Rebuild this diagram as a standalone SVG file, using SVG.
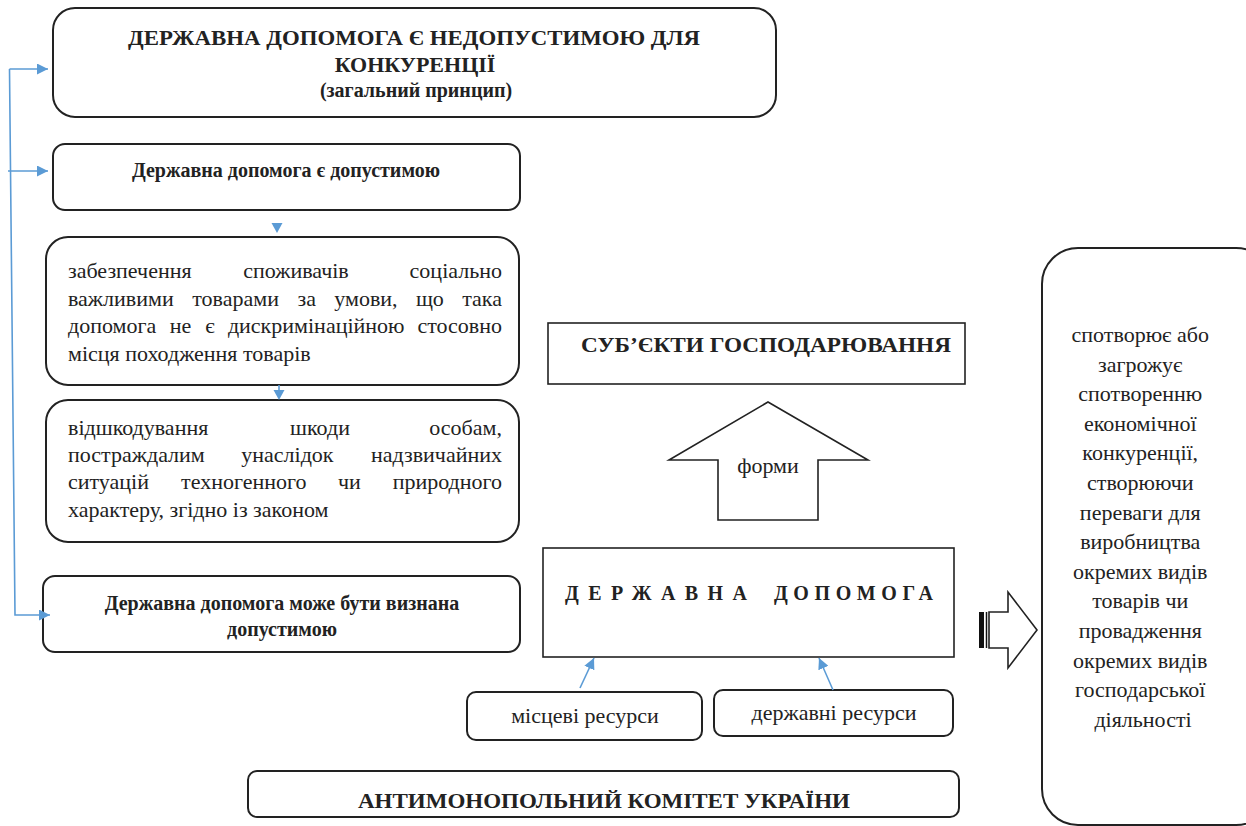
<svg xmlns="http://www.w3.org/2000/svg" width="1246" height="826" viewBox="0 0 1246 826" font-family="Liberation Serif, Times New Roman, serif">
<defs>
<marker id="ah" viewBox="0 0 10 10" refX="10" refY="5" markerWidth="11" markerHeight="11" markerUnits="userSpaceOnUse" orient="auto">
<path d="M0,0 L10,5 L0,10 z" fill="#5b9bd5"/>
</marker>
<style>
.box{fill:#fff;stroke:#222;stroke-width:2}
.sq{fill:#fff;stroke:#222;stroke-width:1.6}
.t{font-size:22px;fill:#222}
.b{font-weight:bold;fill:#222}
.c{text-anchor:middle}
.e{text-anchor:end}
.con{stroke:#5b9bd5;stroke-width:1.6;fill:none}
.tri{fill:#5b9bd5}
</style>
</defs>
<rect width="1246" height="826" fill="#fff"/>

<g id="n1">
<rect class="box" x="53" y="8" width="723" height="109" rx="22"/>
<text class="b c" x="414" y="45" font-size="22" textLength="572" lengthAdjust="spacingAndGlyphs">ДЕРЖАВНА ДОПОМОГА Є НЕДОПУСТИМОЮ ДЛЯ</text>
<text class="b c" x="415" y="72" font-size="22">КОНКУРЕНЦІЇ</text>
<text class="b c" x="416" y="97" font-size="20">(загальний принцип)</text>
</g>

<g id="n2">
<rect class="box" x="53" y="144" width="467" height="66" rx="12"/>
<text class="b c" x="286" y="177" font-size="20">Державна допомога є допустимою</text>
</g>

<g id="n3">
<rect class="box" x="46" y="237" width="473" height="148" rx="22"/>
<text class="t" y="278"><tspan x="68">забезпечення</tspan><tspan x="296" class="c">споживачів</tspan><tspan x="502" class="e">соціально</tspan></text>
<text class="t" y="306"><tspan x="68">важливими</tspan><tspan x="235.6" class="c">товарами</tspan><tspan x="306.7" class="c">за</tspan><tspan x="365.9" class="c">умови,</tspan><tspan x="429.9" class="c">що</tspan><tspan x="502" class="e">така</tspan></text>
<text class="t" y="333"><tspan x="68">допомога</tspan><tspan x="180.6" class="c">не</tspan><tspan x="209.9" class="c">є</tspan><tspan x="316.2" class="c">дискримінаційною</tspan><tspan x="502" class="e">стосовно</tspan></text>
<text class="t" x="68" y="361">місця походження товарів</text>
</g>

<g id="n4">
<rect class="box" x="46" y="400" width="473" height="142" rx="22"/>
<text class="t" y="435"><tspan x="68">відшкодування</tspan><tspan x="320" class="c">шкоди</tspan><tspan x="502" class="e">особам,</tspan></text>
<text class="t" y="462"><tspan x="68">постраждалим</tspan><tspan x="287.4" class="c">унаслідок</tspan><tspan x="502" class="e">надзвичайних</tspan></text>
<text class="t" y="489"><tspan x="68">ситуацій</tspan><tspan x="243.8" class="c">техногенного</tspan><tspan x="349.3" class="c">чи</tspan><tspan x="502" class="e">природного</tspan></text>
<text class="t" x="68" y="517">характеру, згідно із законом</text>
</g>

<g id="n5">
<rect class="box" x="43" y="576" width="477" height="76" rx="12"/>
<text class="b c" x="282" y="610" font-size="20">Державна допомога може бути визнана</text>
<text class="b c" x="282" y="636" font-size="20">допустимою</text>
</g>

<g id="n6">
<rect class="sq" x="548" y="323" width="417" height="61"/>
<text class="b c" x="766" y="352" font-size="22" textLength="370" lengthAdjust="spacingAndGlyphs">СУБ’ЄКТИ ГОСПОДАРЮВАННЯ</text>
</g>

<g id="n7">
<polygon class="sq" points="768,402 868,460 818,460 818,520 718,520 718,460 669,460"/>
<text class="t c" x="768" y="473">форми</text>
</g>

<g id="n8">
<rect class="sq" x="543" y="548" width="411" height="109"/>
<text class="b" y="600" font-size="20"><tspan x="565" textLength="182" lengthAdjust="spacing">ДЕРЖАВНА</tspan><tspan x="774" textLength="159" lengthAdjust="spacing">ДОПОМОГА</tspan></text>
</g>

<g id="n9">
<rect class="box" x="467" y="692" width="235" height="48" rx="9"/>
<text class="t c" x="585" y="723">місцеві ресурси</text>
</g>

<g id="n10">
<rect class="box" x="714" y="690" width="239" height="46" rx="9"/>
<text class="t c" x="834" y="720">державні ресурси</text>
</g>

<g id="n11">
<rect class="box" x="248" y="771" width="711" height="46" rx="9"/>
<text class="b c" x="604" y="808" font-size="22" textLength="492" lengthAdjust="spacingAndGlyphs">АНТИМОНОПОЛЬНИЙ КОМІТЕТ УКРАЇНИ</text>
</g>

<g id="n12">
<rect class="box" x="1042" y="248" width="230" height="577" rx="36"/>
<text class="t c">
<tspan x="1143" y="342">спотворює або</tspan>
<tspan x="1143" y="371.6">загрожує</tspan>
<tspan x="1143" y="401.2">спотворенню</tspan>
<tspan x="1143" y="430.8">економічної</tspan>
<tspan x="1143" y="460.4">конкуренції,</tspan>
<tspan x="1143" y="490">створюючи</tspan>
<tspan x="1143" y="519.6">переваги для</tspan>
<tspan x="1143" y="549.2">виробництва</tspan>
<tspan x="1143" y="578.8">окремих видів</tspan>
<tspan x="1143" y="608.4">товарів чи</tspan>
<tspan x="1143" y="638">провадження</tspan>
<tspan x="1143" y="667.6">окремих видів</tspan>
<tspan x="1143" y="697.2">господарської</tspan>
<tspan x="1143" y="726.8">діяльності</tspan>
</text>
</g>

<g id="n13">
<rect x="979" y="612" width="5" height="36" fill="#111"/>
<line x1="986.5" y1="612" x2="986.5" y2="648" stroke="#111" stroke-width="1.5"/>
<polygon class="sq" points="989,612 1008,612 1008,592 1037,630 1008,668 1008,648 989,648"/>
</g>

<g id="connectors">
<polyline class="con" points="9.5,69 15,615 50,615" marker-end="url(#ah)"/>
<line class="con" x1="9.5" y1="69" x2="48" y2="69" marker-end="url(#ah)"/>
<line class="con" x1="8" y1="171" x2="48" y2="171" marker-end="url(#ah)"/>
<polygon class="tri" points="271.5,223 282.5,223 277,233"/>
<line class="con" x1="279" y1="385" x2="279" y2="392"/>
<polygon class="tri" points="273.5,390 284.5,390 279,400"/>
<line class="con" x1="580" y1="688" x2="594" y2="658" marker-end="url(#ah)"/>
<line class="con" x1="833" y1="690" x2="819" y2="658" marker-end="url(#ah)"/>
</g>
</svg>
